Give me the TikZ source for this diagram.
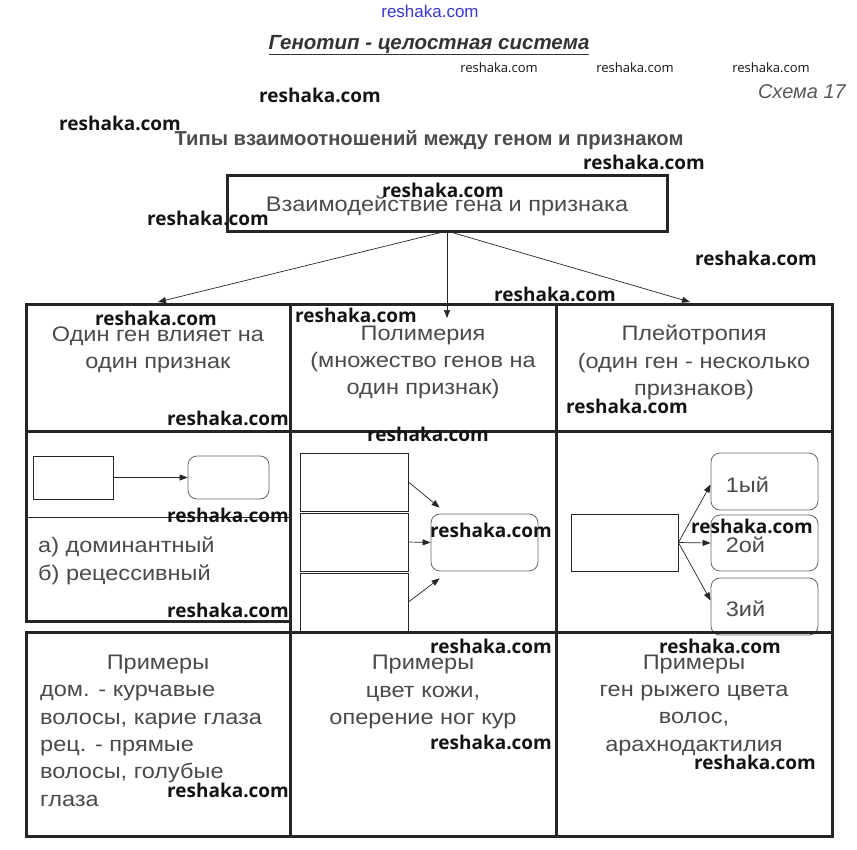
\documentclass[tikz,border=0pt]{standalone}
\usepackage{fontspec}
\setmainfont{Liberation Sans}
\newfontfamily\bodyfont{Liberation Sans}[FakeStretch=1.12]
\newfontfamily\wmfont{Open Sans}
\usetikzlibrary{positioning,arrows.meta,calc}

\definecolor{txtgray}{HTML}{4A4A4A}
\definecolor{linegray}{HTML}{262626}
\definecolor{wmblue}{HTML}{3838D0}

\tikzset{
  cell/.style={draw=linegray, line width=3pt, rectangle, inner sep=0pt, outer sep=0pt},
  gbox/.style={draw=linegray, line width=0.8pt, rectangle, inner sep=0pt},
  rbox/.style={gbox, draw=black!60, rounded corners=9pt},
  body/.style={text=txtgray, font=\bodyfont\fontsize{21}{27.3}\selectfont, align=center, inner sep=0pt},
  wm/.style={text=black!92, font=\wmfont\bfseries\fontsize{19}{19}\selectfont, inner sep=0pt},
  link/.style={-{Triangle[length=8pt,width=6pt]}, line width=0.7pt, draw=linegray},
}

\begin{document}
\begin{tikzpicture}[x=1pt,y=-1pt]
  \useasboundingbox[fill=white] (0,0) rectangle (857,849);

  % Headings
  \node[text=wmblue, font=\fontsize{17}{17}\selectfont, inner sep=0pt] (wmtop) at (430,11) {reshaka.com};
  \node[text=black!80, font=\bfseries\itshape\fontsize{20.5}{20.5}\selectfont, inner sep=1pt] (title) at (429,45) {\underline{Генотип - целостная система}};
  \node[text=black!65, font=\itshape\fontsize{20}{20}\selectfont, inner sep=0pt, anchor=east] (scheme) at (846,92) {Схема 17};
  \node[text=black!70, font=\bfseries\fontsize{20.2}{20.2}\selectfont, inner sep=0pt] (types) at (429,140) {Типы взаимоотношений между геном и признаком};

  % Top box
  \node[cell, minimum width=440pt, minimum height=56pt] (top) at (447,203) {};
  \node[body] (toptext) at (447,206) {Взаимодействие гена и признака};

  % Inner schemes: one gene - one trait
  \node[gbox, minimum width=80pt, minimum height=43pt] (gene) at (73,477.5) {};
  \node[rbox, minimum width=81pt, minimum height=43pt] (trait) at (228.5,477.5) {};
  \draw[link] (gene.east) -- (trait.west);
  \draw[line width=0.6pt, draw=linegray] (26,517) -- (290,517);

  % Polymery
  \node[gbox, minimum width=108pt, minimum height=58pt] (poly1) at (354,482) {};
  \node[gbox, minimum width=108pt, minimum height=58pt] (poly2) at (354,542) {};
  \node[gbox, minimum width=108pt, minimum height=58pt] (poly3) at (354,602) {};
  \node[rbox, minimum width=107pt, minimum height=57pt] (polyt) at (484.5,542.5) {};
  \draw[link] (poly1.east) -- ([xshift=9pt,yshift=6pt]polyt.north west);
  \draw[link] (poly2.east) -- (polyt.west);
  \draw[link] (poly3.east) -- ([xshift=9pt,yshift=-7pt]polyt.south west);

  % Pleiotropy
  \node[gbox, minimum width=107pt, minimum height=57pt] (pleio) at (624.5,542.5) {};
  \node[rbox, minimum width=107pt, minimum height=57pt] (pl1) at (764.5,481.5) {};
  \node[rbox, minimum width=107pt, minimum height=56pt] (pl2) at (764.5,543) {};
  \node[rbox, minimum width=107pt, minimum height=57pt] (pl3) at (764.5,606.5) {};
  \node[body, anchor=west] at ([xshift=15pt,yshift=-3pt]pl1.west) {1ый};
  \node[body, anchor=west] at ([xshift=15pt,yshift=-2pt]pl2.west) {2ой};
  \node[body, anchor=west] at ([xshift=15pt,yshift=-2pt]pl3.west) {3ий};
  \draw[link] (pleio.east) -- ([yshift=-3pt]pl1.west);
  \draw[link] (pleio.east) -- (pl2.west);
  \draw[link] (pleio.east) -- ([yshift=6pt]pl3.west);

  % Grid
  \node[cell, minimum width=264pt, minimum height=127pt] (c11) at (158,367.5) {};
  \node[cell, minimum width=266pt, minimum height=127pt] (c12) at (423,367.5) {};
  \node[cell, minimum width=276pt, minimum height=127pt] (c13) at (694,367.5) {};
  \node[cell, minimum width=264pt, minimum height=190pt] (c21) at (158,526) {};
  \node[cell, minimum width=266pt, minimum height=201pt] (c22) at (423,531.5) {};
  \node[cell, minimum width=276pt, minimum height=201pt] (c23) at (694,531.5) {};
  \node[cell, minimum width=264pt, minimum height=204pt] (c31) at (158,734) {};
  \node[cell, minimum width=266pt, minimum height=204pt] (c32) at (423,734) {};
  \node[cell, minimum width=276pt, minimum height=204pt] (c33) at (694,734) {};

  % Arrows from the top box
  \coordinate (mid) at (447,318);
  \draw[link] (top.south) -- ([yshift=2pt]c11.north);
  \draw[link] (top.south) -- (mid);
  \draw[link] (top.south) -- ([yshift=2pt,xshift=-4pt]c13.north);

  % Texts
  \node[body] (one) at (158,349.5) {Один ген влияет на\\один признак};
  \node[body] (poly) at (423,362.5) {Полимерия\\(множество генов на\\один признак)};
  \node[body] (pleiot) at (694,362.5) {Плейотропия\\(один ген - несколько\\признаков)};
  \node[body, align=left, anchor=west] (domrec) at (38,561) {а) доминантный\\б) рецессивный};

  \node[body] (ex1) at (158,664.5) {Примеры};
  \node[body, align=left, anchor=west] (ex1text) at (40,746) {дом. - курчавые\\волосы, карие глаза\\рец. - прямые\\волосы, голубые\\глаза};
  \node[body] (ex2) at (423,692) {Примеры\\цвет кожи,\\оперение ног кур};
  \node[body] (ex3) at (694,705) {Примеры\\ген рыжего цвета\\волос,\\арахнодактилия};

  % Watermarks
  \foreach \wx/\wy in {499/68, 635/68, 771/68}
    \node[wm, font=\wmfont\fontsize{13}{13}\selectfont] at (\wx,\wy) {reshaka.com};
  \foreach \wx/\wy in {320/95, 120/123, 644/162, 443/190, 208/218, 756/258, 555/294,
      156/318, 356/315, 228/418, 627/406, 428/434, 228/515, 491/530, 752/526,
      228/610, 491/646, 720/646, 491/742, 755/762, 228/790}
    \node[wm] at (\wx,\wy) {reshaka.com};
\end{tikzpicture}
\end{document}
